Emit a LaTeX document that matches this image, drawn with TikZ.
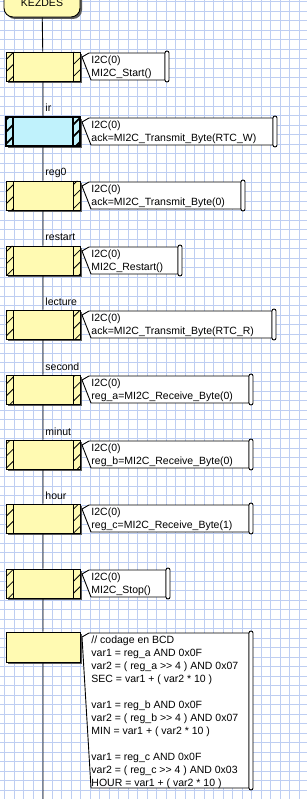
\documentclass[tikz,border=0pt]{standalone}
\usepackage{fontspec}
\setmainfont{Liberation Sans}
\usetikzlibrary{patterns.meta,shadows}
\definecolor{stepY}{RGB}{255,250,178}
\definecolor{stepC}{RGB}{192,242,252}
\definecolor{gridB}{RGB}{190,206,242}
\definecolor{shadowG}{RGB}{90,90,90}
% note: name, top, bottom, right edge, text
\newcommand{\notebox}[5]{%
  \filldraw[fill=white] (89,-#2-1) -- (82,-#2-5) -- (91,-#3) -- (#4,-#3) -- (#4,-#2-1) -- cycle;
  \filldraw[fill=white,rounded corners=2pt] (#4,-#2+1) rectangle (#4+4,-#3-2);
  \node[note] (#1) at (91,-#2-3) {#5};}

\begin{document}
\begin{tikzpicture}[x=1pt,y=1pt,line width=0.9pt,
  txt/.style={font=\fontsize{10.5}{13}\selectfont,inner sep=0pt},
  lbl/.style={txt,anchor=base west},
  note/.style={txt,anchor=north west,align=left},
  boxshadow/.style={drop shadow={shadow xshift=2pt,shadow yshift=-2pt,fill=shadowG,opacity=1}},
  hatch/.style={pattern={Lines[angle=45,distance=8.5pt,line width=#1]}},
  hatched/.style={path picture={
    \path[hatch=#1] (path picture bounding box.south west) rectangle ([xshift=7pt]path picture bounding box.north west)
      (path picture bounding box.south east) rectangle ([xshift=-7pt]path picture bounding box.north east);
    \draw[line width=#1] ([xshift=7pt]path picture bounding box.south west) -- ([xshift=7pt]path picture bounding box.north west)
      ([xshift=-7pt]path picture bounding box.south east) -- ([xshift=-7pt]path picture bounding box.north east);}},
  plainbox/.style={draw,fill=stepY,minimum width=74pt,minimum height=29pt,inner sep=0pt,boxshadow},
  stepbox/.style={plainbox,hatched=0.8pt},
  activebox/.style={plainbox,fill=stepC,line width=2pt,hatched=1.8pt},
  term/.style={draw,fill=stepY,rounded corners=9pt,minimum width=76pt,minimum height=28pt,txt,boxshadow}]
\clip (0,0) rectangle (307,-799);
\fill[white] (0,0) rectangle (307,-799);
\draw[gridB,line width=0.8pt,shift={(4.5,-1.8)}] (-20,20) grid[step=9.5pt] (320,-820);

\node[term] (kezdes) at (42,-3) {KEZDES};

\node[stepbox] (s1) at (43,-66.5) {};
\notebox{n1}{52}{80}{165}{I2C(0)\\MI2C\_Start()}

\node[lbl] (l2) at (45,-112) {ir};
\node[activebox] (s2) at (43,-131.5) {};
\notebox{n2}{117}{145}{273}{I2C(0)\\ack=MI2C\_Transmit\_Byte(RTC\_W)}

\node[lbl] (l3) at (45,-176) {reg0};
\node[stepbox] (s3) at (43,-195.5) {};
\notebox{n3}{181}{209}{241}{I2C(0)\\ack=MI2C\_Transmit\_Byte(0)}

\node[lbl] (l4) at (45,-241) {restart};
\node[stepbox] (s4) at (43,-260.5) {};
\notebox{n4}{246}{274}{178}{I2C(0)\\MI2C\_Restart()}

\node[lbl] (l5) at (45,-305) {lecture};
\node[stepbox] (s5) at (43,-324.5) {};
\notebox{n5}{310}{338}{272}{I2C(0)\\ack=MI2C\_Transmit\_Byte(RTC\_R)}

\node[lbl] (l6) at (45,-370) {second};
\node[stepbox] (s6) at (43,-389.5) {};
\notebox{n6}{375}{403}{249}{I2C(0)\\reg\_a=MI2C\_Receive\_Byte(0)}

\node[lbl] (l7) at (45,-435) {minut};
\node[stepbox] (s7) at (43,-454.5) {};
\notebox{n7}{440}{468}{249}{I2C(0)\\reg\_b=MI2C\_Receive\_Byte(0)}

\node[lbl] (l8) at (45,-499) {hour};
\node[stepbox] (s8) at (43,-518.5) {};
\notebox{n8}{504}{532}{249}{I2C(0)\\reg\_c=MI2C\_Receive\_Byte(1)}

\node[stepbox] (s9) at (43,-583.5) {};
\notebox{n9}{569}{597}{166}{I2C(0)\\MI2C\_Stop()}

\node[plainbox,minimum height=30pt] (s10) at (43,-647) {};
\notebox{n10}{632}{788}{249}{// codage en BCD\\
var1 = reg\_a AND 0x0F\\
var2 = ( reg\_a >\kern0pt> 4 ) AND 0x07\\
SEC = var1 + ( var2 * 10 )\\[13pt]
var1 = reg\_b AND 0x0F\\
var2 = ( reg\_b >\kern0pt> 4 ) AND 0x07\\
MIN = var1 + ( var2 * 10 )\\[13pt]
var1 = reg\_c AND 0x0F\\
var2 = ( reg\_c >\kern0pt> 4 ) AND 0x03\\
HOUR = var1 + ( var2 * 10 )}

\coordinate (fin) at (43,-799);
\draw (kezdes) -- (s1) -- (s2) -- (s3) -- (s4) -- (s5) -- (s6) -- (s7) -- (s8) -- (s9) -- (s10) -- (fin);
\end{tikzpicture}
\end{document}
